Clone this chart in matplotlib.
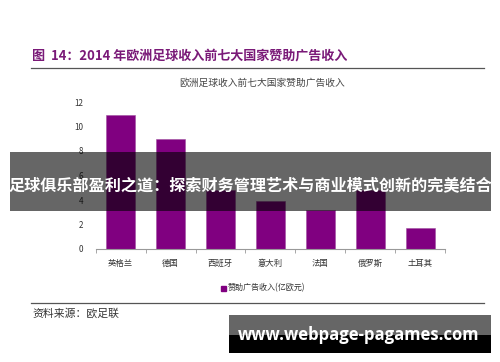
import matplotlib
matplotlib.use("Agg")
import matplotlib.pyplot as plt
from matplotlib.patches import Rectangle

plt.rcParams['font.family'] = ['Noto Sans CJK SC', 'DejaVu Sans']

# data
countries = ['英格兰', '德国', '西班牙', '意大利', '法国', '俄罗斯', '土耳其']
revenue = [10.9, 9.0, 4.8, 3.9, 3.2, 4.8, 1.7]
yticks = [0, 2, 4, 6, 8, 10, 12]

purple = '#800080'
W, H = 500, 362

fig = plt.figure(figsize=(5, 3.62), dpi=100)
fig.patch.set_facecolor('white')

# helper: pixel -> figure fraction
def fx(x):
    return x / W
def fy(y):
    return 1 - y / H

# page title and rules
fig.text(fx(32), fy(55), '图  14：2014 年欧洲足球收入前七大国家赞助广告收入',
         color='#7a1a78', fontsize=9.4, fontweight='bold', va='center', ha='left')
fig.add_artist(plt.Line2D([fx(31), fx(484)], [fy(67.5), fy(67.5)], color='#555555', lw=0.9))
fig.add_artist(plt.Line2D([fx(31), fx(484)], [fy(302.5), fy(302.5)], color='#555555', lw=0.9))
fig.text(fx(262), fy(83), '欧洲足球收入前七大国家赞助广告收入',
         color='#444444', fontsize=7, va='center', ha='center')
fig.text(fx(32), fy(313), '资料来源：欧足联', color='#333333', fontsize=7.8,
         va='center', ha='left')

# chart
ax = fig.add_axes([fx(95.7), fy(249), (445 - 95.7) / W, (249 - 102) / H])
x = list(range(len(countries)))
ax.bar(x, revenue, width=0.58, color=purple, edgecolor='#a050a0', linewidth=0.4)
ax.set_xlim(-0.5, len(countries) - 0.5)
ax.set_ylim(0, 12)
ax.set_yticks(yticks)
ax.set_yticklabels([str(v) for v in yticks], fontsize=5.8, color='#333333')
ax.tick_params(axis='y', length=0, pad=9)
ax.set_xticks([i - 0.5 for i in range(len(countries) + 1)])
ax.set_xticklabels([])
ax.tick_params(axis='x', length=3, color='#999999', width=0.6, direction='out')
for i, c in enumerate(countries):
    ax.text(i, -1.15, c, ha='center', va='center', fontsize=6, color='#333333')
for s in ['top', 'right', 'left']:
    ax.spines[s].set_visible(False)
ax.spines['bottom'].set_color('#999999')
ax.spines['bottom'].set_linewidth(0.8)

# legend
fig.add_artist(Rectangle((fx(221), fy(290.5)), 4.5 / W, 4.5 / H, color=purple,
                         transform=fig.transFigure))
fig.text(fx(228), fy(288), '赞助广告收入(亿欧元)', color='#333333', fontsize=5.8,
         va='center', ha='left')

# overlay band with headline
fig.add_artist(Rectangle((fx(10), fy(210.7)), 481 / W, 58.7 / H, color='black',
                         alpha=0.6, lw=0, transform=fig.transFigure))
fig.text(fx(250.5), fy(185), '足球俱乐部盈利之道：探索财务管理艺术与商业模式创新的完美结合',
         color='white', fontsize=11.6, fontweight='bold', va='center', ha='center')

# bottom-right site label
fig.add_artist(Rectangle((fx(229), fy(335)), 262 / W, 20 / H, color='#666666',
                         lw=0, transform=fig.transFigure))
fig.add_artist(Rectangle((fx(229), fy(352.7)), 262 / W, 17.7 / H, color='black',
                         lw=0, transform=fig.transFigure))
fig.text(fx(359), fy(335), 'www.webpage-pagames.com', color='white',
         fontsize=12, fontweight='bold', family='Open Sans', va='center', ha='center')

fig.savefig('out.png', dpi=100)
